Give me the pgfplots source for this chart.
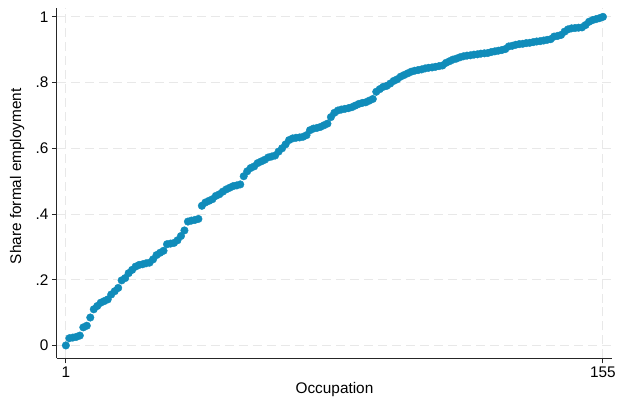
\documentclass[border=0pt]{standalone}
\usepackage{pgfplots}
\pgfplotsset{compat=1.18}
\usepackage{fontspec}
\setmainfont{Liberation Sans}
\definecolor{markblue}{RGB}{16,140,186}
\definecolor{gridgray}{RGB}{232,232,232}

\begin{document}
\begin{tikzpicture}
\begin{axis}[
  at={(0pt,0pt)}, anchor=south west,
  scale only axis, width=556pt, height=351pt,
  xmin=-1.57, xmax=157.6, ymin=-0.0395, ymax=1.027,
  axis lines*=left,
  axis line style={line width=0.9pt, black!85},
  tick align=outside, major tick length=5pt,
  tick style={line width=0.9pt, black!85},
  xtick={1,155}, xticklabels={1,155},
  ytick={0,0.2,0.4,0.6,0.8,1}, yticklabels={0,.2,.4,.6,.8,1},
  grid=major,
  major grid style={gridgray, line width=0.9pt, dash pattern=on 9pt off 5pt},
  font=\fontsize{15.4}{18}\selectfont,
  ticklabel style={font=\fontsize{15.4}{18}\selectfont},
  xlabel={Occupation}, ylabel={Share formal employment},
  every axis x label/.style={at={(axis description cs:0.5,-0.09)}, anchor=center},
  every axis y label/.style={at={(axis description cs:-0.0717,0.52)}, anchor=center, rotate=90},
  clip=false,
]
\addplot[only marks, mark=*, mark size=3.8pt, color=markblue, mark options={draw=none, fill=markblue}]
  table[row sep=\\] {
x y\\
1 0\\ 2 0.022\\ 3 0.024\\ 4 0.026\\ 5 0.030\\ 6 0.055\\ 7 0.060\\ 8 0.085\\ 9 0.110\\ 10 0.120\\
11 0.130\\ 12 0.135\\ 13 0.140\\ 14 0.155\\ 15 0.165\\ 16 0.175\\ 17 0.198\\ 18 0.205\\ 19 0.220\\ 20 0.230\\
21 0.240\\ 22 0.245\\ 23 0.247\\ 24 0.250\\ 25 0.252\\ 26 0.262\\ 27 0.275\\ 28 0.282\\ 29 0.288\\ 30 0.308\\
31 0.310\\ 32 0.312\\ 33 0.320\\ 34 0.333\\ 35 0.350\\ 36 0.377\\ 37 0.380\\ 38 0.382\\ 39 0.385\\ 40 0.425\\
41 0.435\\ 42 0.440\\ 43 0.445\\ 44 0.455\\ 45 0.460\\ 46 0.468\\ 47 0.475\\ 48 0.480\\ 49 0.485\\ 50 0.487\\
51 0.490\\ 52 0.515\\ 53 0.530\\ 54 0.540\\ 55 0.545\\ 56 0.555\\ 57 0.560\\ 58 0.565\\ 59 0.572\\ 60 0.575\\
61 0.578\\ 62 0.590\\ 63 0.600\\ 64 0.612\\ 65 0.625\\ 66 0.630\\ 67 0.632\\ 68 0.633\\ 69 0.635\\ 70 0.640\\
71 0.655\\ 72 0.660\\ 73 0.662\\ 74 0.665\\ 75 0.670\\ 76 0.675\\ 77 0.695\\ 78 0.708\\ 79 0.715\\ 80 0.718\\
81 0.720\\ 82 0.722\\ 83 0.725\\ 84 0.730\\ 85 0.735\\ 86 0.738\\ 87 0.740\\ 88 0.745\\ 89 0.750\\ 90 0.772\\
91 0.780\\ 92 0.787\\ 93 0.790\\ 94 0.797\\ 95 0.805\\ 96 0.810\\ 97 0.818\\ 98 0.823\\ 99 0.828\\ 100 0.833\\
101 0.836\\ 102 0.838\\ 103 0.840\\ 104 0.843\\ 105 0.845\\ 106 0.846\\ 107 0.848\\ 108 0.850\\ 109 0.852\\ 110 0.860\\
111 0.865\\ 112 0.870\\ 113 0.873\\ 114 0.877\\ 115 0.880\\ 116 0.882\\ 117 0.883\\ 118 0.885\\ 119 0.886\\ 120 0.888\\
121 0.889\\ 122 0.890\\ 123 0.893\\ 124 0.895\\ 125 0.897\\ 126 0.899\\ 127 0.902\\ 128 0.910\\ 129 0.912\\ 130 0.915\\
131 0.917\\ 132 0.918\\ 133 0.920\\ 134 0.921\\ 135 0.923\\ 136 0.925\\ 137 0.926\\ 138 0.928\\ 139 0.930\\ 140 0.932\\
141 0.940\\ 142 0.942\\ 143 0.945\\ 144 0.955\\ 145 0.962\\ 146 0.965\\ 147 0.966\\ 148 0.967\\ 149 0.968\\ 150 0.975\\
151 0.985\\ 152 0.990\\ 153 0.993\\ 154 0.996\\ 155 1.000\\
};
\end{axis}
\pgfresetboundingbox
\path[use as bounding box] (-57pt,-44pt) rectangle (561pt,359pt);
\end{tikzpicture}
\end{document}
